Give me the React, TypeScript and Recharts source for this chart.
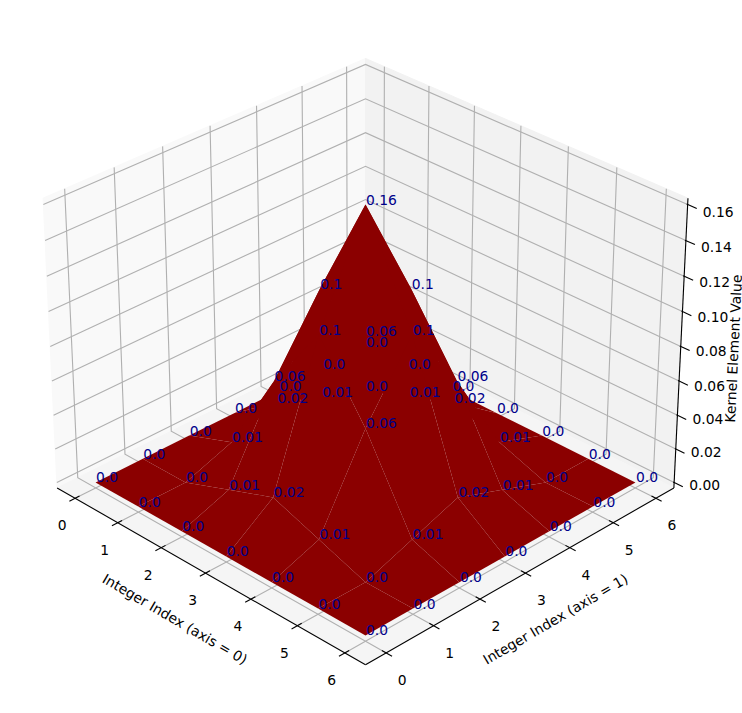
import React from "react";
import { ScatterChart, Scatter, XAxis, YAxis } from "recharts";

const gridIndex = [0, 1, 2, 3, 4, 5, 6];
const kernelRows = [
  [0.0, 0.0, 0.0, 0.0, 0.0, 0.0, 0.0],
  [0.0, 0.0, 0.01, 0.02, 0.01, 0.0, 0.0],
  [0.0, 0.01, 0.06, 0.1, 0.06, 0.01, 0.0],
  [0.0, 0.02, 0.1, 0.16, 0.1, 0.02, 0.0],
  [0.0, 0.01, 0.06, 0.1, 0.06, 0.01, 0.0],
  [0.0, 0.0, 0.01, 0.02, 0.01, 0.0, 0.0],
  [0.0, 0.0, 0.0, 0.0, 0.0, 0.0, 0.0],
];
const labelRows = [
  ["0.0", "0.0", "0.0", "0.0", "0.0", "0.0", "0.0"],
  ["0.0", "0.0", "0.01", "0.02", "0.01", "0.0", "0.0"],
  ["0.0", "0.01", "0.06", "0.1", "0.06", "0.01", "0.0"],
  ["0.0", "0.02", "0.1", "0.16", "0.1", "0.02", "0.0"],
  ["0.0", "0.01", "0.06", "0.1", "0.06", "0.01", "0.0"],
  ["0.0", "0.0", "0.01", "0.02", "0.01", "0.0", "0.0"],
  ["0.0", "0.0", "0.0", "0.0", "0.0", "0.0", "0.0"],
];
const zTicks = [0, 0.02, 0.04, 0.06, 0.08, 0.1, 0.12, 0.14, 0.16];
const zTickLabels = ["0.00", "0.02", "0.04", "0.06", "0.08", "0.10", "0.12", "0.14", "0.16"];

const W = 742;
const H = 713;
const FONT = "'DejaVu Sans', sans-serif";
const XMIN = -0.43;
const XMAX = 6.43;
const ZMIN = -0.0033;
const ZMAX = 0.1635;

// matplotlib-style camera: elev 30, azim -45, box aspect 4:4:3, focal length 1, distance 10
const BOX_H = 1.1905;
const BOX_Z = 0.8929;
const SCALE = 3745;
const CX = 365.5;
const CY = 346.3;
const rt = Math.SQRT1_2;
const se = 0.5;
const ce = Math.sqrt(3) / 2;

const rel = (x: number, y: number, z: number) => [
  ((x - XMIN) / (XMAX - XMIN) - 0.5) * BOX_H,
  ((y - XMIN) / (XMAX - XMIN) - 0.5) * BOX_H,
  ((z - ZMIN) / (ZMAX - ZMIN) - 0.5) * BOX_Z,
];
const depth = (x: number, y: number, z: number) => {
  const [a, b, c] = rel(x, y, z);
  return 10 - (ce * rt * a - ce * rt * b + se * c);
};
const project = (x: number, y: number, z: number) => {
  const [a, b, c] = rel(x, y, z);
  const d = depth(x, y, z);
  const u = rt * a + rt * b;
  const v = -se * rt * a + se * rt * b + ce * c;
  return { x: CX + (SCALE * u) / d, y: CY - (SCALE * v) / d };
};

type P3 = [number, number, number];
const toPts = (list: P3[]) => list.map((p) => project(p[0], p[1], p[2]));

const panes = [
  { fill: "#f9f9f9", pts: toPts([[XMIN, XMIN, ZMIN], [XMIN, XMAX, ZMIN], [XMIN, XMAX, ZMAX], [XMIN, XMIN, ZMAX]]) },
  { fill: "#f2f2f2", pts: toPts([[XMIN, XMAX, ZMIN], [XMAX, XMAX, ZMIN], [XMAX, XMAX, ZMAX], [XMIN, XMAX, ZMAX]]) },
  { fill: "#f5f5f5", pts: toPts([[XMIN, XMIN, ZMIN], [XMAX, XMIN, ZMIN], [XMAX, XMAX, ZMIN], [XMIN, XMAX, ZMIN]]) },
];

const gridLines: P3[][] = [];
gridIndex.forEach((k) => {
  gridLines.push([[XMIN, k, ZMAX], [XMIN, k, ZMIN], [XMAX, k, ZMIN]]);
  gridLines.push([[k, XMAX, ZMAX], [k, XMAX, ZMIN], [k, XMIN, ZMIN]]);
});
zTicks.forEach((z) => {
  gridLines.push([[XMIN, XMIN, z], [XMIN, XMAX, z], [XMAX, XMAX, z]]);
});

const axisLines: P3[][] = [
  [[XMIN, XMIN, ZMIN], [XMAX, XMIN, ZMIN]],
  [[XMAX, XMIN, ZMIN], [XMAX, XMAX, ZMIN]],
  [[XMAX, XMAX, ZMIN], [XMAX, XMAX, ZMAX]],
];
gridIndex.forEach((k) => {
  axisLines.push([[k, XMIN - 0.12, ZMIN], [k, XMIN + 0.09, ZMIN]]);
  axisLines.push([[XMAX + 0.12, k, ZMIN], [XMAX - 0.09, k, ZMIN]]);
});
zTicks.forEach((z) => {
  axisLines.push([[XMAX - 0.02, XMAX, z], [XMAX + 0.18, XMAX, z]]);
});

const facets: { pts: { x: number; y: number }[]; d: number }[] = [];
for (let i = 0; i < 6; i++) {
  for (let j = 0; j < 6; j++) {
    const c: P3[] = [
      [i, j, kernelRows[i][j]],
      [i + 1, j, kernelRows[i + 1][j]],
      [i + 1, j + 1, kernelRows[i + 1][j + 1]],
      [i, j + 1, kernelRows[i][j + 1]],
    ];
    const d = c.reduce((s, p) => s + depth(p[0], p[1], p[2]), 0) / 4;
    facets.push({ pts: toPts(c), d });
  }
}
facets.sort((a, b) => b.d - a.d);

const valueLabels = gridIndex.flatMap((i) =>
  gridIndex.map((j) => ({ ...project(i, j, kernelRows[i][j]), label: labelRows[i][j] }))
);
const xTickLabels = gridIndex.map((k) => ({ ...project(k, XMIN, ZMIN), label: String(k) }));
const yTickLabels = gridIndex.map((k) => ({ ...project(XMAX, k, ZMIN), label: String(k) }));
const zLabels = zTicks.map((z, i) => {
  const p = project(XMAX, XMAX, z);
  return { x: p.x, y: p.y + (z / 0.16) * 4, label: zTickLabels[i] };
});
const axisTitles = [
  { x: 175, y: 619, label: "Integer Index (axis = 0)", rot: 30.3 },
  { x: 555.5, y: 619, label: "Integer Index (axis = 1)", rot: -30.3 },
  { x: 733.5, y: 348.5, label: "Kernel Element Value", rot: -87.3 },
];

const noMark = () => <g />;
const ptsAttr = (p: any) => p.points.map((q: any) => `${q.x},${q.y}`).join(" ");
const paneLine = (fill: string) => (p: any) => <polygon points={ptsAttr(p)} fill={fill} stroke={fill} strokeWidth={1} />;
const polyLine = (fill: string) => (p: any) => <polygon points={ptsAttr(p)} fill={fill} stroke="none" />;
const strokeLine = (stroke: string, width: number) => (p: any) => (
  <polyline points={ptsAttr(p)} fill="none" stroke={stroke} strokeWidth={width} />
);
const textMark = (color: string, anchor: string, dx: number, dy: number) => (p: any) => (
  <text x={p.cx + dx} y={p.cy + dy} fill={color} fontFamily={FONT} fontSize={13.89} textAnchor={anchor}>
    {p.payload.label}
  </text>
);
const titleMark = (p: any) => (
  <text
    x={p.cx}
    y={p.cy}
    fill="#000"
    fontFamily={FONT}
    fontSize={13.89}
    textAnchor="middle"
    dominantBaseline="central"
    transform={`rotate(${p.payload.rot} ${p.cx} ${p.cy})`}
  >
    {p.payload.label}
  </text>
);

export default function App() {
  return (
    <div style={{ position: "absolute", left: 0, top: 0, width: W, height: H }}>
      <ScatterChart width={W} height={H} margin={{ top: 0, right: 0, bottom: 0, left: 0 }}>
        <XAxis type="number" dataKey="x" domain={[0, W]} hide />
        <YAxis type="number" dataKey="y" domain={[0, H]} reversed hide />
        {panes.map((p, i) => (
          <Scatter key={`pane${i}`} data={p.pts} isAnimationActive={false} shape={noMark} line={paneLine(p.fill)} />
        ))}
        {gridLines.map((g, i) => (
          <Scatter key={`grid${i}`} data={toPts(g)} isAnimationActive={false} shape={noMark} line={strokeLine("#b0b0b0", 1.11)} />
        ))}
        {axisLines.map((g, i) => (
          <Scatter key={`axis${i}`} data={toPts(g)} isAnimationActive={false} shape={noMark} line={strokeLine("#000", 1.11)} />
        ))}
        {facets.map((f, i) => (
          <Scatter key={`facet${i}`} data={f.pts} isAnimationActive={false} shape={noMark} line={polyLine("#8b0000")} />
        ))}
        <Scatter data={valueLabels} isAnimationActive={false} shape={textMark("#00008b", "start", 0.5, 0)} />
        <Scatter data={xTickLabels} isAnimationActive={false} shape={textMark("#000", "middle", -13, 32)} />
        <Scatter data={yTickLabels} isAnimationActive={false} shape={textMark("#000", "middle", 16, 32)} />
        <Scatter data={zLabels} isAnimationActive={false} shape={textMark("#000", "start", 15, 8)} />
        <Scatter data={axisTitles} isAnimationActive={false} shape={titleMark} />
      </ScatterChart>
    </div>
  );
}
